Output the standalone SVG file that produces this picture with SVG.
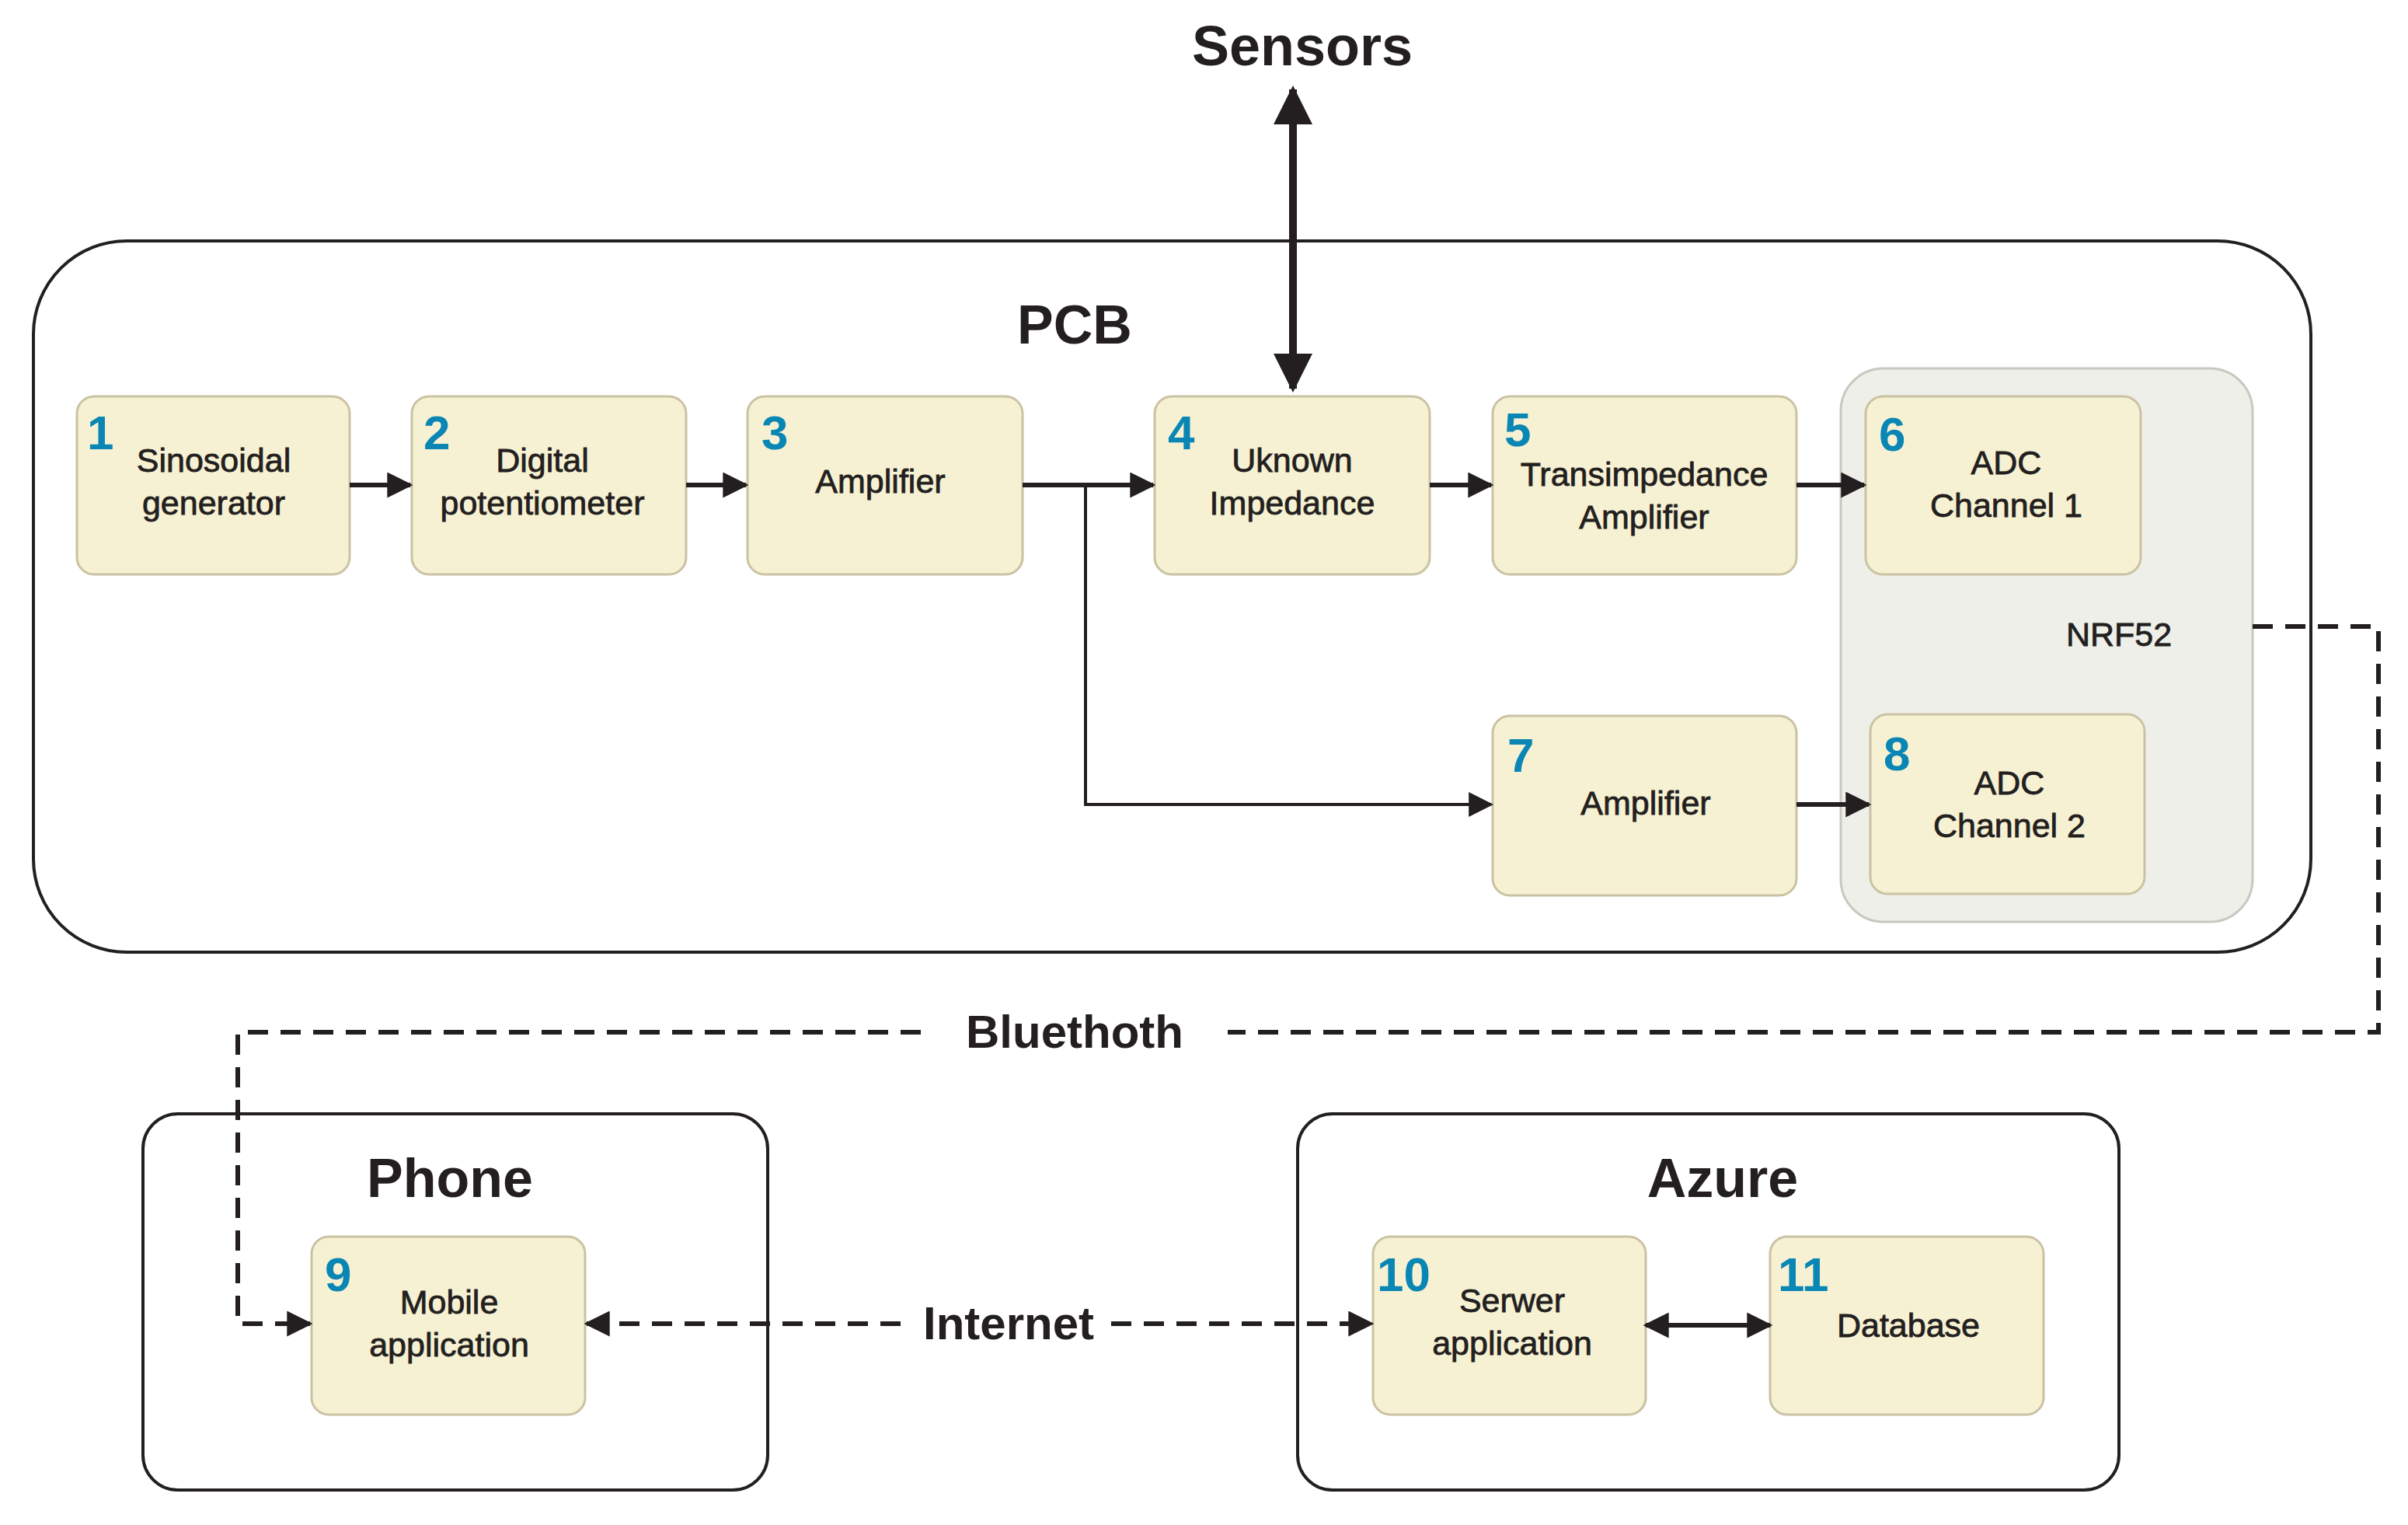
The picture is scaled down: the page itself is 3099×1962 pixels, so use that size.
<svg xmlns="http://www.w3.org/2000/svg" width="3099" height="1962" viewBox="0 0 3099 1962">
<defs>
<marker id="ah" viewBox="0 0 10 10" refX="9" refY="5" markerWidth="5.5" markerHeight="5.5" orient="auto-start-reverse" markerUnits="strokeWidth"><path d="M0,0 L10,5 L0,10 Z" fill="#231f20"/></marker>
<marker id="ah2" viewBox="0 0 10 10" refX="9" refY="5" markerWidth="5" markerHeight="5" orient="auto-start-reverse" markerUnits="strokeWidth"><path d="M0,0 L10,5 L0,10 Z" fill="#231f20"/></marker>
<marker id="ah3" viewBox="0 0 10 10" refX="9" refY="5" markerWidth="8" markerHeight="8" orient="auto-start-reverse" markerUnits="strokeWidth"><path d="M0,0 L10,5 L0,10 Z" fill="#231f20"/></marker>
</defs>
<style>
.n{fill:#f7f1d3;stroke:#c9c2a3;stroke-width:3}
.t{font-family:"Liberation Sans",Arial,sans-serif;font-size:43px;fill:#231f20;text-anchor:middle;stroke:#231f20;stroke-width:0.8}
.num{font-family:"Liberation Sans",Arial,sans-serif;font-size:62px;font-weight:bold;fill:#0a86b5}
.h{font-family:"Liberation Sans",Arial,sans-serif;font-weight:bold;fill:#231f20;text-anchor:middle}
.c{stroke:#231f20;stroke-width:6;fill:none;marker-end:url(#ah)}
.d{stroke:#231f20;stroke-width:6;fill:none;stroke-dasharray:26 16}
</style>
<rect width="3099" height="1962" fill="#fff"/>
<g id="pcb"><rect x="43" y="310" width="2931" height="915" rx="120" fill="none" stroke="#231f20" stroke-width="4"/><text class="h" x="1383" y="442" font-size="70">PCB</text></g>
<g id="nrf52"><rect x="2369" y="474" width="530" height="712" rx="55" fill="#efefe9" stroke="#c8c8c0" stroke-width="3"/><text class="t" x="2727" y="831">NRF52</text></g>
<g id="phone"><rect x="184" y="1433" width="804" height="484" rx="45" fill="none" stroke="#231f20" stroke-width="4"/><text class="h" x="579" y="1540" font-size="70">Phone</text></g>
<g id="azure"><rect x="1670" y="1433" width="1057" height="484" rx="45" fill="none" stroke="#231f20" stroke-width="4"/><text class="h" x="2217" y="1540" font-size="70">Azure</text></g>
<text class="h" x="1676" y="84" font-size="72">Sensors</text>
<g id="n1"><rect class="n" x="99" y="510" width="351" height="229" rx="22"/><text class="num" x="112" y="578">1</text><text class="t" x="275" y="607">Sinosoidal</text><text class="t" x="275" y="662">generator</text></g>
<g id="n2"><rect class="n" x="530" y="510" width="353" height="229" rx="22"/><text class="num" x="545" y="578">2</text><text class="t" x="698" y="607">Digital</text><text class="t" x="698" y="662">potentiometer</text></g>
<g id="n3"><rect class="n" x="962" y="510" width="354" height="229" rx="22"/><text class="num" x="980" y="578">3</text><text class="t" x="1133" y="634">Amplifier</text></g>
<g id="n4"><rect class="n" x="1486" y="510" width="354" height="229" rx="22"/><text class="num" x="1503" y="578">4</text><text class="t" x="1663" y="607">Uknown</text><text class="t" x="1663" y="662">Impedance</text></g>
<g id="n5"><rect class="n" x="1921" y="510" width="391" height="229" rx="22"/><text class="num" x="1936" y="574">5</text><text class="t" x="2116" y="625">Transimpedance</text><text class="t" x="2116" y="680">Amplifier</text></g>
<g id="n6"><rect class="n" x="2401" y="510" width="354" height="229" rx="22"/><text class="num" x="2418" y="580">6</text><text class="t" x="2582" y="610">ADC</text><text class="t" x="2582" y="665">Channel 1</text></g>
<g id="n7"><rect class="n" x="1921" y="921" width="391" height="231" rx="22"/><text class="num" x="1940" y="993">7</text><text class="t" x="2118" y="1048">Amplifier</text></g>
<g id="n8"><rect class="n" x="2407" y="919" width="353" height="231" rx="22"/><text class="num" x="2424" y="991">8</text><text class="t" x="2586" y="1022">ADC</text><text class="t" x="2586" y="1077">Channel 2</text></g>
<g id="n9"><rect class="n" x="401" y="1591" width="352" height="229" rx="22"/><text class="num" x="418" y="1661">9</text><text class="t" x="578" y="1690">Mobile</text><text class="t" x="578" y="1745">application</text></g>
<g id="n10"><rect class="n" x="1767" y="1591" width="351" height="229" rx="22"/><text class="num" x="1772" y="1661">10</text><text class="t" x="1946" y="1688">Serwer</text><text class="t" x="1946" y="1743">application</text></g>
<g id="n11"><rect class="n" x="2278" y="1591" width="352" height="229" rx="22"/><text class="num" x="2288" y="1661">11</text><text class="t" x="2456" y="1720">Database</text></g>
<g id="connectors">
<line x1="1664" y1="115" x2="1664" y2="500" stroke="#231f20" stroke-width="10" marker-start="url(#ah2)" marker-end="url(#ah2)"/>
<line class="c" x1="450" y1="624" x2="528" y2="624"/>
<line class="c" x1="883" y1="624" x2="960" y2="624"/>
<line class="c" x1="1316" y1="624" x2="1484" y2="624"/>
<line class="c" x1="1840" y1="624" x2="1919" y2="624"/>
<line class="c" x1="2312" y1="624" x2="2399" y2="624"/>
<line class="c" x1="2312" y1="1035" x2="2405" y2="1035"/>
<polyline points="1397,624 1397,1035 1919,1035" stroke="#231f20" stroke-width="4" fill="none" marker-end="url(#ah3)"/>
<line x1="2118" y1="1705" x2="2278" y2="1705" stroke="#231f20" stroke-width="6" marker-start="url(#ah)" marker-end="url(#ah)"/>
<polyline class="d" points="2899,806 3061,806 3061,1328 1580,1328"/>
<polyline class="d" points="1185,1328 306,1328 306,1703 399,1703" marker-end="url(#ah)"/>
<line class="d" x1="755" y1="1703" x2="1170" y2="1703" marker-start="url(#ah)"/>
<line class="d" x1="1430" y1="1703" x2="1765" y2="1703" marker-end="url(#ah)"/>
</g>
<text class="h" x="1383" y="1348" font-size="60">Bluethoth</text>
<text class="h" x="1298" y="1723" font-size="60">Internet</text>
</svg>
